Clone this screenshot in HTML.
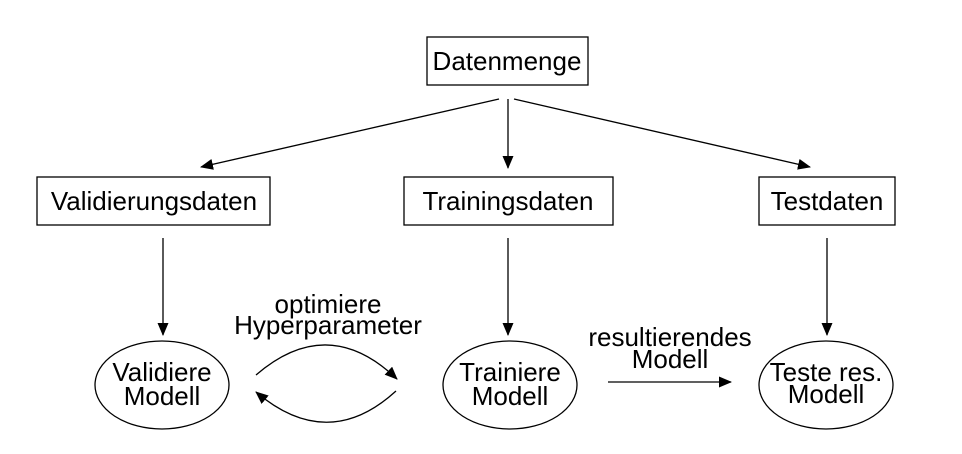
<!DOCTYPE html>
<html><head><meta charset="utf-8"><style>
html,body{margin:0;padding:0;background:#fff;}
svg{display:block;}
text{font-family:"Liberation Sans",Arial,sans-serif;font-size:26px;fill:#000;}
</style></head><body>
<svg width="962" height="454" viewBox="0 0 962 454" xmlns="http://www.w3.org/2000/svg">
<defs>
<marker id="a" markerWidth="13" markerHeight="11" refX="12" refY="5.5" orient="auto" markerUnits="userSpaceOnUse">
<path d="M0,0 L13,5.5 L0,11 z" fill="#000"/>
</marker>
</defs>
<g fill="none" stroke="#000" stroke-width="1.3">
<rect x="427" y="37" width="161" height="48"/>
<rect x="37" y="177" width="233" height="48"/>
<rect x="404" y="177" width="209" height="48"/>
<rect x="759" y="177" width="136" height="48"/>
<ellipse cx="162" cy="385" rx="67" ry="44"/>
<ellipse cx="510" cy="385" rx="67" ry="44"/>
<ellipse cx="826" cy="385" rx="67" ry="44"/>
<line x1="499" y1="99" x2="201" y2="167" marker-end="url(#a)"/>
<line x1="508" y1="99" x2="508" y2="168" marker-end="url(#a)"/>
<line x1="514" y1="99" x2="810" y2="167" marker-end="url(#a)"/>
<line x1="163" y1="238" x2="163" y2="335" marker-end="url(#a)"/>
<line x1="508" y1="238" x2="508" y2="335" marker-end="url(#a)"/>
<line x1="827" y1="238" x2="827" y2="335" marker-end="url(#a)"/>
<line x1="608" y1="382" x2="731" y2="382" marker-end="url(#a)"/>
<path d="M256,375 Q328,313 397,379" marker-end="url(#a)"/>
<path d="M396,391 Q328,453 256,392" marker-end="url(#a)"/>
</g>
<g text-anchor="middle">
<text x="507" y="70">Datenmenge</text>
<text x="154" y="210">Validierungsdaten</text>
<text x="508" y="210">Trainingsdaten</text>
<text x="827" y="210">Testdaten</text>
<text x="162" y="381">Validiere</text>
<text x="162" y="405">Modell</text>
<text x="510" y="381">Trainiere</text>
<text x="510" y="405">Modell</text>
<text x="826" y="381">Teste res.</text>
<text x="826" y="403">Modell</text>
<text x="328" y="313">optimiere</text>
<text x="328" y="334">Hyperparameter</text>
<text x="670" y="346">resultierendes</text>
<text x="670" y="368">Modell</text>
</g>
</svg>
</body></html>
